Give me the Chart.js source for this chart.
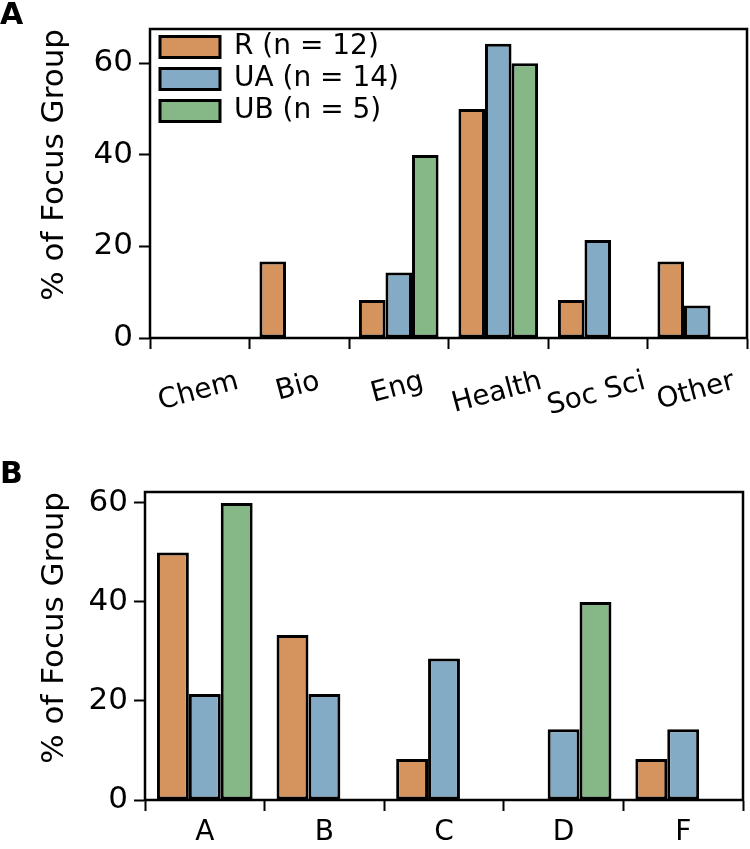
<!DOCTYPE html>
<html>
<head>
<meta charset="utf-8">
<script src="https://cdn.jsdelivr.net/npm/chart.js@4.4.1/dist/chart.umd.min.js"></script>
<style>
  body { margin: 0; background: #fff; }
  #wrap { position: relative; width: 750px; height: 849px; overflow: hidden; }
  .panel { position: absolute; left: 0; width: 750px; }
  .tag { position: absolute; left: 0; font: bold 30px "DejaVu Sans"; line-height: 30px; color: #000; }
</style>
</head>
<body>
<div id="wrap">
  <div class="panel" style="top:0;height:440px"><canvas id="chartA"></canvas></div>
  <div class="panel" style="top:440px;height:409px"><canvas id="chartB"></canvas></div>
  <div class="tag" style="top:-1px">A</div>
  <div class="tag" style="top:458px">B</div>
</div>
<script>
const seriesNames = ['R (n = 12)', 'UA (n = 14)', 'UB (n = 5)'];
const seriesColors = ['#d5945e', '#84abc6', '#86b787'];

const fieldLabels = ['Chem', 'Bio', 'Eng', 'Health', 'Soc Sci', 'Other'];
const fieldR = [0, 16.7, 8.3, 50, 8.3, 16.7];
const fieldUA = [0, 0, 14.3, 64.3, 21.4, 7.1];
const fieldUB = [0, 0, 40, 60, 0, 0];

const gradeLabels = ['A', 'B', 'C', 'D', 'F'];
const gradeR = [50, 33.3, 8.3, 0, 8.3];
const gradeUA = [21.4, 21.4, 28.6, 14.3, 14.3];
const gradeUB = [60, 0, 0, 40, 0];

const yTickValues = [0, 20, 40, 60];
const yTitle = '% of Focus Group';

Chart.defaults.font.family = '"DejaVu Sans", sans-serif';
Chart.defaults.color = '#000';

// box around the plot area, like matplotlib spines
const framePlugin = {
  id: 'frame',
  afterDatasetsDraw(chart) {
    const { ctx, chartArea: a } = chart;
    ctx.save();
    ctx.strokeStyle = '#000';
    ctx.lineWidth = 2.5;
    ctx.strokeRect(a.left, a.top, a.right - a.left, a.bottom - a.top);
    ctx.restore();
  },
};

// put the legend inside the plot, top left
const legendShift = {
  id: 'legendShift',
  afterLayout(chart) {
    if (!chart.legend) return;
    chart.legend.left = chart.chartArea.left + 6;
    chart.legend.top = chart.chartArea.top;
  },
};

// rotated x labels centred under their tick (matplotlib ha='center')
const centerRotated = {
  id: 'centerRotated',
  beforeDraw(chart) {
    const scale = chart.scales.x;
    const ctx = chart.ctx;
    const angle = Math.PI / 12;
    scale.getLabelItems().forEach(item => {
      ctx.save();
      ctx.font = item.font.string;
      const w = ctx.measureText(item.label).width;
      ctx.restore();
      const h = item.font.lineHeight;
      const top = scale.top + 27;
      item.textOffset = 0;
      item.options.textAlign = 'center';
      item.options.textBaseline = 'middle';
      item.options.translation = [item.options.translation[0] + 3, top + (w * Math.sin(angle) + h * Math.cos(angle)) / 2];
    });
  },
};

function makeDatasets(r, ua, ub) {
  return [r, ua, ub].map((values, i) => ({
    label: seriesNames[i],
    data: values,
    backgroundColor: seriesColors[i],
    borderColor: '#000',
    borderWidth: 3,
    borderSkipped: false,
    categoryPercentage: 0.8,
    barPercentage: 1.0,
  }));
}

function makeChart(id, labels, datasets, opts) {
  return new Chart(document.getElementById(id), {
    type: 'bar',
    data: { labels: labels, datasets: datasets },
    options: {
      responsive: true,
      maintainAspectRatio: false,
      animation: false,
      events: [],
      layout: { padding: opts.padding },
      plugins: {
        legend: opts.legend,
        tooltip: { enabled: false },
      },
      scales: {
        x: {
          afterFit(scale) { scale.height = opts.xHeight; },
          grid: {
            display: true,
            drawOnChartArea: false,
            drawTicks: true,
            tickLength: 11,
            tickWidth: 2,
            tickColor: '#000',
          },
          border: { display: true, color: '#000', width: 2 },
          ticks: {
            color: '#000',
            font: { size: 28 },
            padding: 5,
            minRotation: opts.rotation,
            maxRotation: opts.rotation,
            autoSkip: false,
          },
        },
        y: {
          min: 0,
          max: opts.yMax,
          afterFit(scale) { scale.width = opts.yWidth; },
          afterBuildTicks(scale) {
            scale.ticks = yTickValues.map(v => ({ value: v }));
          },
          grid: {
            display: true,
            drawOnChartArea: false,
            drawTicks: true,
            tickLength: 11,
            tickWidth: 2,
            tickColor: '#000',
          },
          border: { display: true, color: '#000', width: 2 },
          ticks: {
            color: '#000',
            font: { size: 31 },
            padding: 6,
          },
          title: {
            display: true,
            text: yTitle,
            align: 'end',
            color: '#000',
            font: { size: 31 },
            padding: { top: 36, bottom: 0 },
          },
        },
      },
    },
    plugins: opts.plugins,
  });
}

makeChart('chartA', fieldLabels, makeDatasets(fieldR, fieldUA, fieldUB), {
  padding: { top: 29, right: 3, bottom: 0, left: 0 },
  xHeight: 102,
  yWidth: 150,
  yMax: 67.5,
  rotation: 15,
  legend: {
    display: true,
    position: 'chartArea',
    align: 'start',
    labels: {
      color: '#000',
      font: { size: 28 },
      boxWidth: 60,
      boxHeight: 21,
      padding: 4,
    },
  },
  plugins: [framePlugin, legendShift, centerRotated],
});

makeChart('chartB', gradeLabels, makeDatasets(gradeR, gradeUA, gradeUB), {
  padding: { top: 52, right: 7, bottom: 0, left: 0 },
  xHeight: 49,
  yWidth: 145,
  yMax: 62.2,
  rotation: 0,
  legend: { display: false },
  plugins: [framePlugin],
});
</script>
</body>
</html>
